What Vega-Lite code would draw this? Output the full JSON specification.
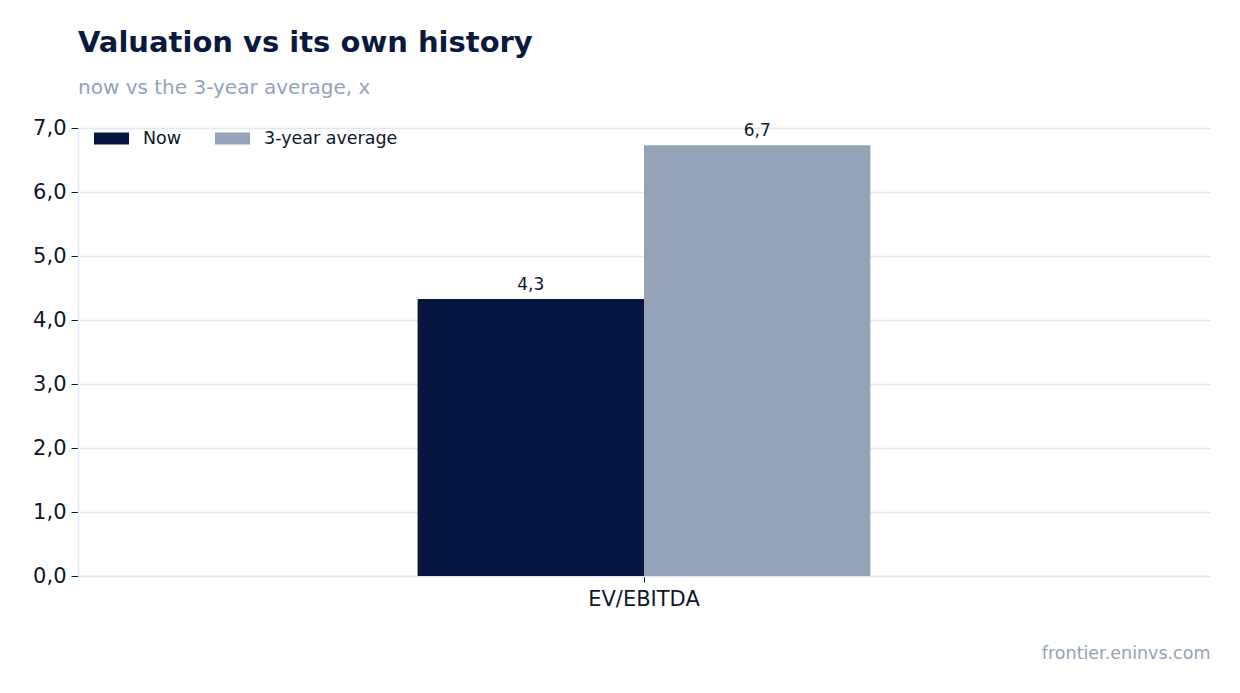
{
  "$schema": "https://vega.github.io/schema/vega-lite/v6.json",
  "width": 1132,
  "height": 448,
  "autosize": "none",
  "padding": {"left": 78, "top": 128, "right": 30, "bottom": 117},
  "background": "white",
  "title": {
    "text": "Valuation vs its own history",
    "subtitle": "now vs the 3-year average, x",
    "anchor": "start",
    "frame": "group",
    "fontSize": 29,
    "fontWeight": "bold",
    "color": "#0a1a3f",
    "subtitleColor": "#94a3b8",
    "subtitleFontSize": 20,
    "subtitlePadding": 20,
    "offset": 19
  },
  "data": {
    "values": [
      {"metric": "EV/EBITDA", "series": "Now", "value": 4.33},
      {"metric": "EV/EBITDA", "series": "3-year average", "value": 6.73}
    ]
  },
  "encoding": {
    "x": {
      "field": "metric",
      "type": "nominal",
      "scale": {"paddingOuter": 0.75, "paddingInner": 0},
      "axis": {
        "title": "frontier.eninvs.com",
        "titleAnchor": "end",
        "titleAlign": "right",
        "titleColor": "#94a3b8",
        "titleFontSize": 17.5,
        "titleFontWeight": "normal",
        "titlePadding": 35,
        "labelAngle": 0,
        "labelFontSize": 21,
        "labelColor": "#0f172a",
        "labelPadding": 6,
        "tickColor": "#0f172a",
        "tickSize": 6,
        "domainColor": "#e2e8f0",
        "domainWidth": 1.5
      }
    },
    "xOffset": {
      "field": "series",
      "type": "nominal",
      "scale": {"domain": ["Now", "3-year average"], "paddingInner": 0, "paddingOuter": 0}
    },
    "y": {
      "field": "value",
      "type": "quantitative",
      "scale": {"domain": [0, 7]},
      "axis": {
        "title": null,
        "values": [0, 1, 2, 3, 4, 5, 6, 7],
        "format": ".1f",
        "labelFontSize": 21,
        "labelColor": "#0f172a",
        "labelPadding": 5,
        "tickColor": "#0f172a",
        "tickSize": 7,
        "domainColor": "#e2e8f0",
        "domainWidth": 1.5,
        "gridColor": "#e2e8f0",
        "gridWidth": 1.5
      }
    }
  },
  "layer": [
    {
      "mark": {"type": "bar"},
      "encoding": {
        "color": {
          "field": "series",
          "type": "nominal",
          "scale": {"domain": ["Now", "3-year average"], "range": ["#061641", "#94a3b8"]},
          "legend": {
            "title": null,
            "orient": "none",
            "direction": "horizontal",
            "legendX": 16,
            "legendY": -7,
            "symbolType": "M-1,-0.34H1V0.34H-1Z",
            "symbolSize": 1225,
            "symbolStrokeWidth": 0,
            "labelFontSize": 17.5,
            "labelColor": "#0f172a",
            "labelOffset": 14,
            "columnPadding": 33
          }
        }
      }
    },
    {
      "mark": {"type": "text", "baseline": "alphabetic", "dy": -9, "fontSize": 17, "color": "#0f172a"},
      "encoding": {
        "text": {"field": "value", "type": "quantitative", "format": ".1f"}
      }
    }
  ],
  "config": {
    "font": "DejaVu Sans",
    "view": {"stroke": null},
    "locale": {
      "number": {"decimal": ",", "thousands": " ", "grouping": [3], "currency": ["", ""]}
    }
  }
}
